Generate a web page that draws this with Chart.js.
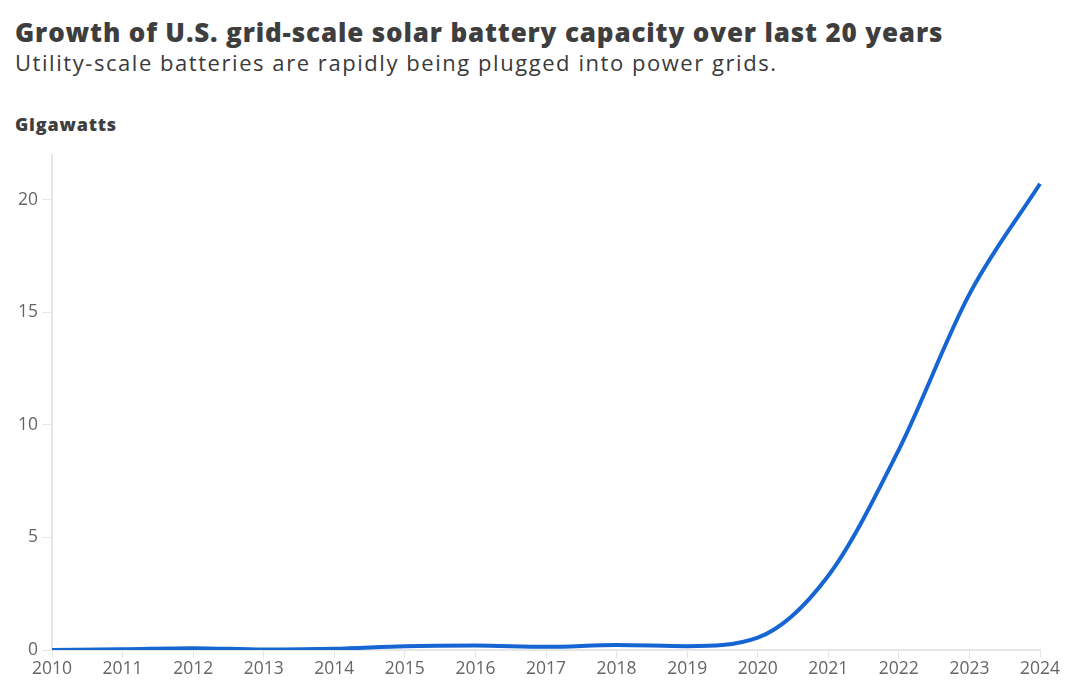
<!DOCTYPE html>
<html>
<head>
<meta charset="utf-8">
<script src="https://cdn.jsdelivr.net/npm/chart.js@4"></script>
<style>
  body { margin: 0; width: 1080px; height: 698px; background: #fff; font-family: "Open Sans", sans-serif; overflow: hidden; }
  #titulo { position: absolute; left: 15px; top: 14px; font-size: 26px; font-weight: 800; color: #3e3e3e; white-space: nowrap; letter-spacing: 0.85px; }
  #subtitulo { position: absolute; left: 15px; top: 47px; font-size: 22px; color: #3a3a3a; white-space: nowrap; letter-spacing: 1.55px; }
  #unidad { position: absolute; left: 15px; top: 112px; font-size: 18px; font-weight: 800; color: #3e3e3e; letter-spacing: 0.8px; }
  #caja { position: absolute; left: 0; top: 140px; width: 1080px; height: 558px; }
</style>
</head>
<body>
<div id="titulo">Growth of U.S. grid-scale solar battery capacity over last 20 years</div>
<div id="subtitulo">Utility-scale batteries are rapidly being plugged into power grids.</div>
<div id="unidad">Gigawatts</div>
<div id="caja"><canvas id="grafico" width="1080" height="558"></canvas></div>
<script>
const anios = ['2010','2011','2012','2013','2014','2015','2016','2017','2018','2019','2020','2021','2022','2023','2024'];
const gigawatts = [0.0, 0.03, 0.08, 0.02, 0.05, 0.17, 0.2, 0.14, 0.22, 0.17, 0.55, 3.3, 8.9, 15.8, 20.7];
const ticksY = [0, 5, 10, 15, 20];

const gris = '#e6e6e6';
const fuenteTicks = { family: 'Open Sans', size: 17.5 };

new Chart(document.getElementById('grafico'), {
    type: 'line',
    data: {
        labels: anios,
        datasets: [{
            data: gigawatts,
            borderColor: '#1565d2',
            borderWidth: 4,
            pointRadius: 0,
            fill: false,
            cubicInterpolationMode: 'monotone'
        }]
    },
    options: {
        responsive: false,
        animation: false,
        layout: { padding: { top: 12, right: 40, left: 0, bottom: 0 } },
        plugins: { legend: { display: false }, tooltip: { enabled: false } },
        scales: {
            x: {
                offset: false,
                border: { color: gris, width: 2 },
                grid: { drawOnChartArea: false, color: gris, tickLength: 8 },
                ticks: { color: '#666', font: fuenteTicks, padding: 1, maxRotation: 0, autoSkip: false },
                afterFit: (s) => { s.height = 48; }
            },
            y: {
                min: 0,
                max: 22,
                border: { color: gris, width: 2 },
                grid: { drawOnChartArea: false, color: gris, tickLength: 10 },
                ticks: { color: '#666', font: fuenteTicks, padding: 4 },
                afterBuildTicks: (s) => { s.ticks = ticksY.map(v => ({ value: v })); },
                afterFit: (s) => { s.width = 52; }
            }
        }
    }
});
</script>
</body>
</html>
